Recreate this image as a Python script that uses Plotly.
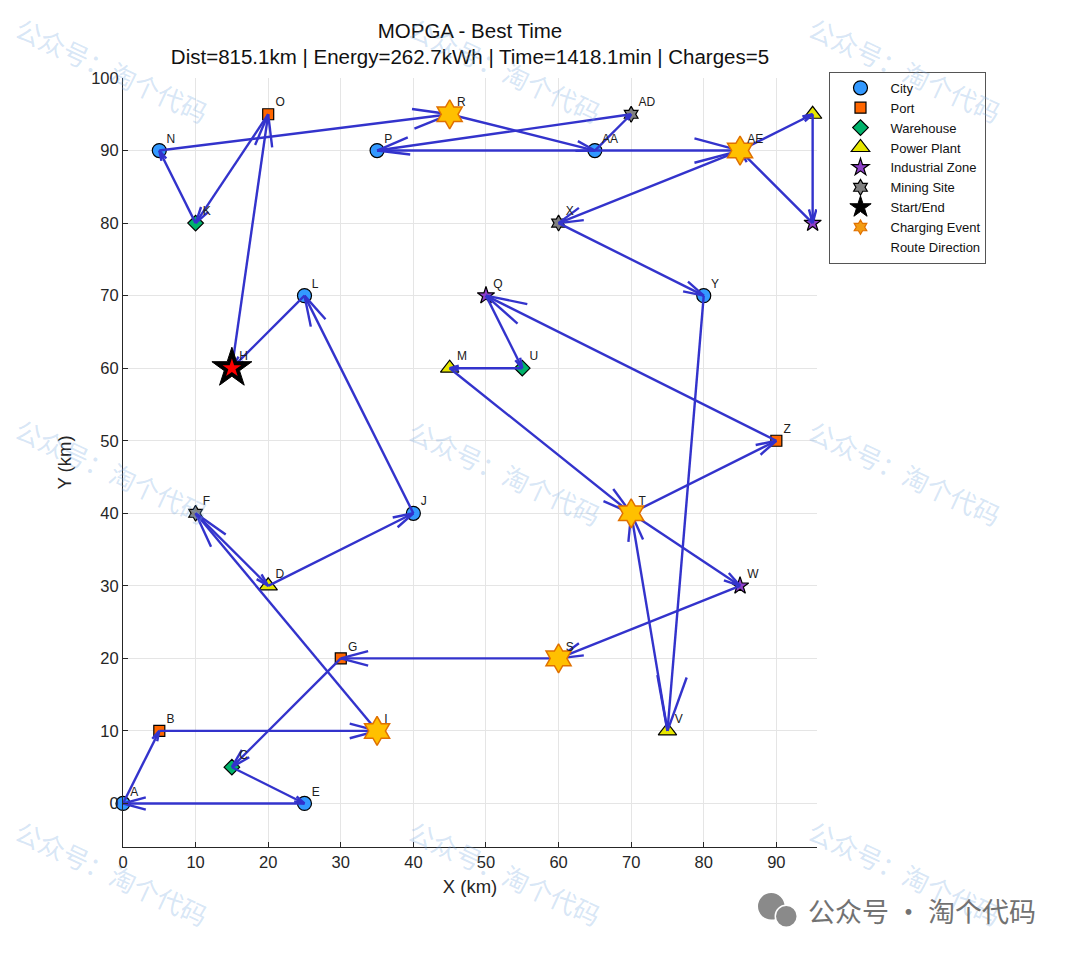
import math

import plotly.graph_objects as go

# nodes of the instance
node_names = ["A", "B", "C", "D", "E", "F", "G", "H", "I", "J", "K", "L", "M", "N", "O",
              "P", "Q", "R", "S", "T", "U", "V", "W", "X", "Y", "Z", "AA", "AB", "AC", "AD", "AE"]
node_x = [0, 5, 15, 20, 25, 10, 30, 15, 35, 40, 10, 25, 45, 5, 20,
          35, 50, 45, 60, 70, 55, 75, 85, 60, 80, 90, 65, 95, 95, 70, 85]
node_y = [0, 10, 5, 30, 0, 40, 20, 60, 10, 40, 80, 70, 60, 90, 95,
          90, 70, 95, 20, 40, 60, 10, 30, 80, 70, 50, 90, 95, 80, 95, 90]
node_types = ["City", "Port", "Warehouse", "Power Plant", "City", "Mining Site", "Port", "Depot",
              "Charging Station", "City", "Warehouse", "City", "Power Plant", "City", "Port",
              "City", "Industrial Zone", "Charging Station", "Charging Station", "Charging Station",
              "Warehouse", "Power Plant", "Industrial Zone", "Mining Site", "City", "Port", "City",
              "Power Plant", "Industrial Zone", "Mining Site", "Charging Station"]

# best-time route (start and end at H)
route = ["H", "O", "K", "N", "R", "AA", "AD", "P", "AE", "AB", "AC", "AE", "X", "Y", "V", "T",
         "Z", "Q", "U", "M", "T", "W", "S", "G", "C", "E", "A", "B", "I", "F", "D", "J", "L", "H"]
charging_events = ["R", "AE", "T", "S", "I"]
start_node = "H"

algo = "MOPGA"
total_dist = 815.1
total_energy = 262.7
total_time = 1418.1
n_charges = 5

x_ticks = [0, 10, 20, 30, 40, 50, 60, 70, 80, 90]
y_ticks = [0, 10, 20, 30, 40, 50, 60, 70, 80, 90, 100]

pos = {n: (x, y) for n, x, y in zip(node_names, node_x, node_y)}

FONT = "Liberation Sans, Arial, sans-serif"
CJK = "Noto Sans CJK SC"
ARROW = "#3333CC"

styles = {
    "City": dict(symbol="circle", size=14, color="#3399FF"),
    "Port": dict(symbol="square", size=11, color="#FF6600"),
    "Warehouse": dict(symbol="diamond", size=12, color="#00B36B"),
    "Power Plant": dict(symbol="triangle-up", size=16, color="#E6E600"),
    "Industrial Zone": dict(symbol="star", size=13, color="#8E3FC9"),
    "Mining Site": dict(symbol="hexagram", size=12, color="#808080"),
}

fig = go.Figure()

for rank, (t, st) in enumerate(styles.items(), start=1):
    xs = [x for x, tt in zip(node_x, node_types) if tt == t]
    ys = [y for y, tt in zip(node_y, node_types) if tt == t]
    fig.add_trace(go.Scatter(
        x=xs, y=ys, mode="markers", name=t, legendrank=rank, cliponaxis=False,
        marker=dict(symbol=st["symbol"], size=st["size"], color=st["color"],
                    line=dict(color="black", width=1.2)),
    ))

# route arrows, MATLAB quiver style: head scales with segment length
HEAD_FRAC = 0.13
HEAD_ANG = math.radians(15)
ax_, ay_ = [], []
for a, b in zip(route[:-1], route[1:]):
    x1, y1 = pos[a]
    x2, y2 = pos[b]
    dx, dy = x2 - x1, y2 - y1
    L = math.hypot(dx, dy)
    ux, uy = dx / L, dy / L
    h = HEAD_FRAC * L
    ax_ += [x1, x2, None]
    ay_ += [y1, y2, None]
    for s in (1, -1):
        c, sn = math.cos(s * HEAD_ANG), math.sin(s * HEAD_ANG)
        rx, ry = ux * c - uy * sn, ux * sn + uy * c
        ax_ += [x2 - h * rx, x2, None]
        ay_ += [y2 - h * ry, y2, None]
fig.add_trace(go.Scatter(x=ax_, y=ay_, mode="lines", showlegend=False, hoverinfo="skip",
                         cliponaxis=False, line=dict(color=ARROW, width=2.4)))

fig.add_trace(go.Scatter(
    x=[pos[n][0] for n in charging_events], y=[pos[n][1] for n in charging_events],
    mode="markers", showlegend=False, hoverinfo="skip", cliponaxis=False,
    marker=dict(symbol="hexagram", size=22, color="#FFC000", line=dict(color="#E07000", width=1.5)),
))

sx, sy = pos[start_node]
fig.add_trace(go.Scatter(
    x=[sx], y=[sy], mode="markers", name="Start/End", legendrank=7,
    marker=dict(symbol="star", size=30, color="black", line=dict(color="black", width=1)),
))
fig.add_trace(go.Scatter(
    x=[sx], y=[sy], mode="markers", showlegend=False, hoverinfo="skip",
    marker=dict(symbol="star", size=14, color="#FF0000", line=dict(width=0)),
))

# legend-only entries
fig.add_trace(go.Scatter(
    x=[None], y=[None], mode="markers", name="Charging Event", legendrank=8,
    marker=dict(symbol="hexagram", size=11, color="#F39C12", line=dict(color="#E07000", width=1.2)),
))
fig.add_trace(go.Scatter(
    x=[None], y=[None], mode="lines", name="Route Direction", legendrank=9,
    line=dict(color="rgba(0,0,0,0)", width=1),
))

fig.add_trace(go.Scatter(
    x=[x + 1.0 for x in node_x], y=[y + 1.5 for y in node_y], text=node_names,
    mode="text", textposition="middle right", showlegend=False, hoverinfo="skip",
    cliponaxis=False, textfont=dict(family=FONT, size=12, color="#202020"),
))

# watermark tiles (page pixel centres -> paper coords)
wm = "公众号：淘个代码"
wm_px = [(112, 70), (505, 70), (905, 70), (112, 470), (505, 472), (905, 472),
         (112, 872), (505, 872), (905, 872)]
L_PX, R_PX, T_PX, B_PX = 123.3, 816.7, 78.3, 846.7


def to_paper(px, py):
    return (px - L_PX) / (R_PX - L_PX), (B_PX - py) / (B_PX - T_PX)


annotations = []
for px, py in wm_px:
    x, y = to_paper(px, py)
    annotations.append(dict(
        text=wm, x=x, y=y, xref="paper", yref="paper", xanchor="center", yanchor="middle",
        showarrow=False, textangle=25,
        font=dict(family=CJK, size=26, color="rgba(120,170,225,0.3)"),
    ))
x, y = to_paper(922, 910)
annotations.append(dict(
    text="公众号 · 淘个代码", x=x, y=y, xref="paper", yref="paper",
    xanchor="center", yanchor="middle", showarrow=False,
    font=dict(family=CJK, size=27, color="#727272"),
))

shapes = []
for cx, cy, r in [(771, 906, 14), (786, 916, 11)]:
    x0, y0 = to_paper(cx - r, cy + r)
    x1, y1 = to_paper(cx + r, cy - r)
    shapes.append(dict(type="circle", xref="paper", yref="paper", x0=x0, y0=y0, x1=x1, y1=y1,
                       fillcolor="#8a8a8a", line=dict(color="white", width=1.5)))

axis_common = dict(
    showgrid=True, gridcolor="#E5E5E5", gridwidth=1, zeroline=False,
    showline=True, linecolor="#262626", linewidth=1,
    ticks="inside", ticklen=5, tickcolor="#262626",
    tickfont=dict(family=FONT, size=16.5, color="#262626"),
)

fig.update_layout(
    width=1080, height=953,
    margin=dict(l=115, r=271, t=70, b=114),
    paper_bgcolor="white", plot_bgcolor="white",
    title=dict(
        text=f"{algo} - Best Time<br>Dist={total_dist:.1f}km | Energy={total_energy:.1f}kWh | "
             f"Time={total_time:.1f}min | Charges={n_charges}",
        x=0.5, xref="paper", xanchor="center", y=0.969, yref="container", yanchor="top",
        font=dict(family=FONT, size=20.5, color="#111111"),
    ),
    xaxis=dict(range=[0, 95.6], tickvals=x_ticks, **axis_common,
               title=dict(text="X (km)", standoff=10, font=dict(family=FONT, size=18.5, color="#262626"))),
    yaxis=dict(range=[-6, 100], tickvals=y_ticks, **axis_common,
               title=dict(text="Y (km)", standoff=14, font=dict(family=FONT, size=18.5, color="#262626"))),
    legend=dict(
        x=1.018, y=1.008, xanchor="left", yanchor="top",
        bordercolor="#555555", borderwidth=1, bgcolor="white",
        font=dict(family=FONT, size=13, color="#111111"),
        itemwidth=50, tracegroupgap=0,
    ),
    annotations=annotations,
    shapes=shapes,
)

fig.write_html("out.html")
